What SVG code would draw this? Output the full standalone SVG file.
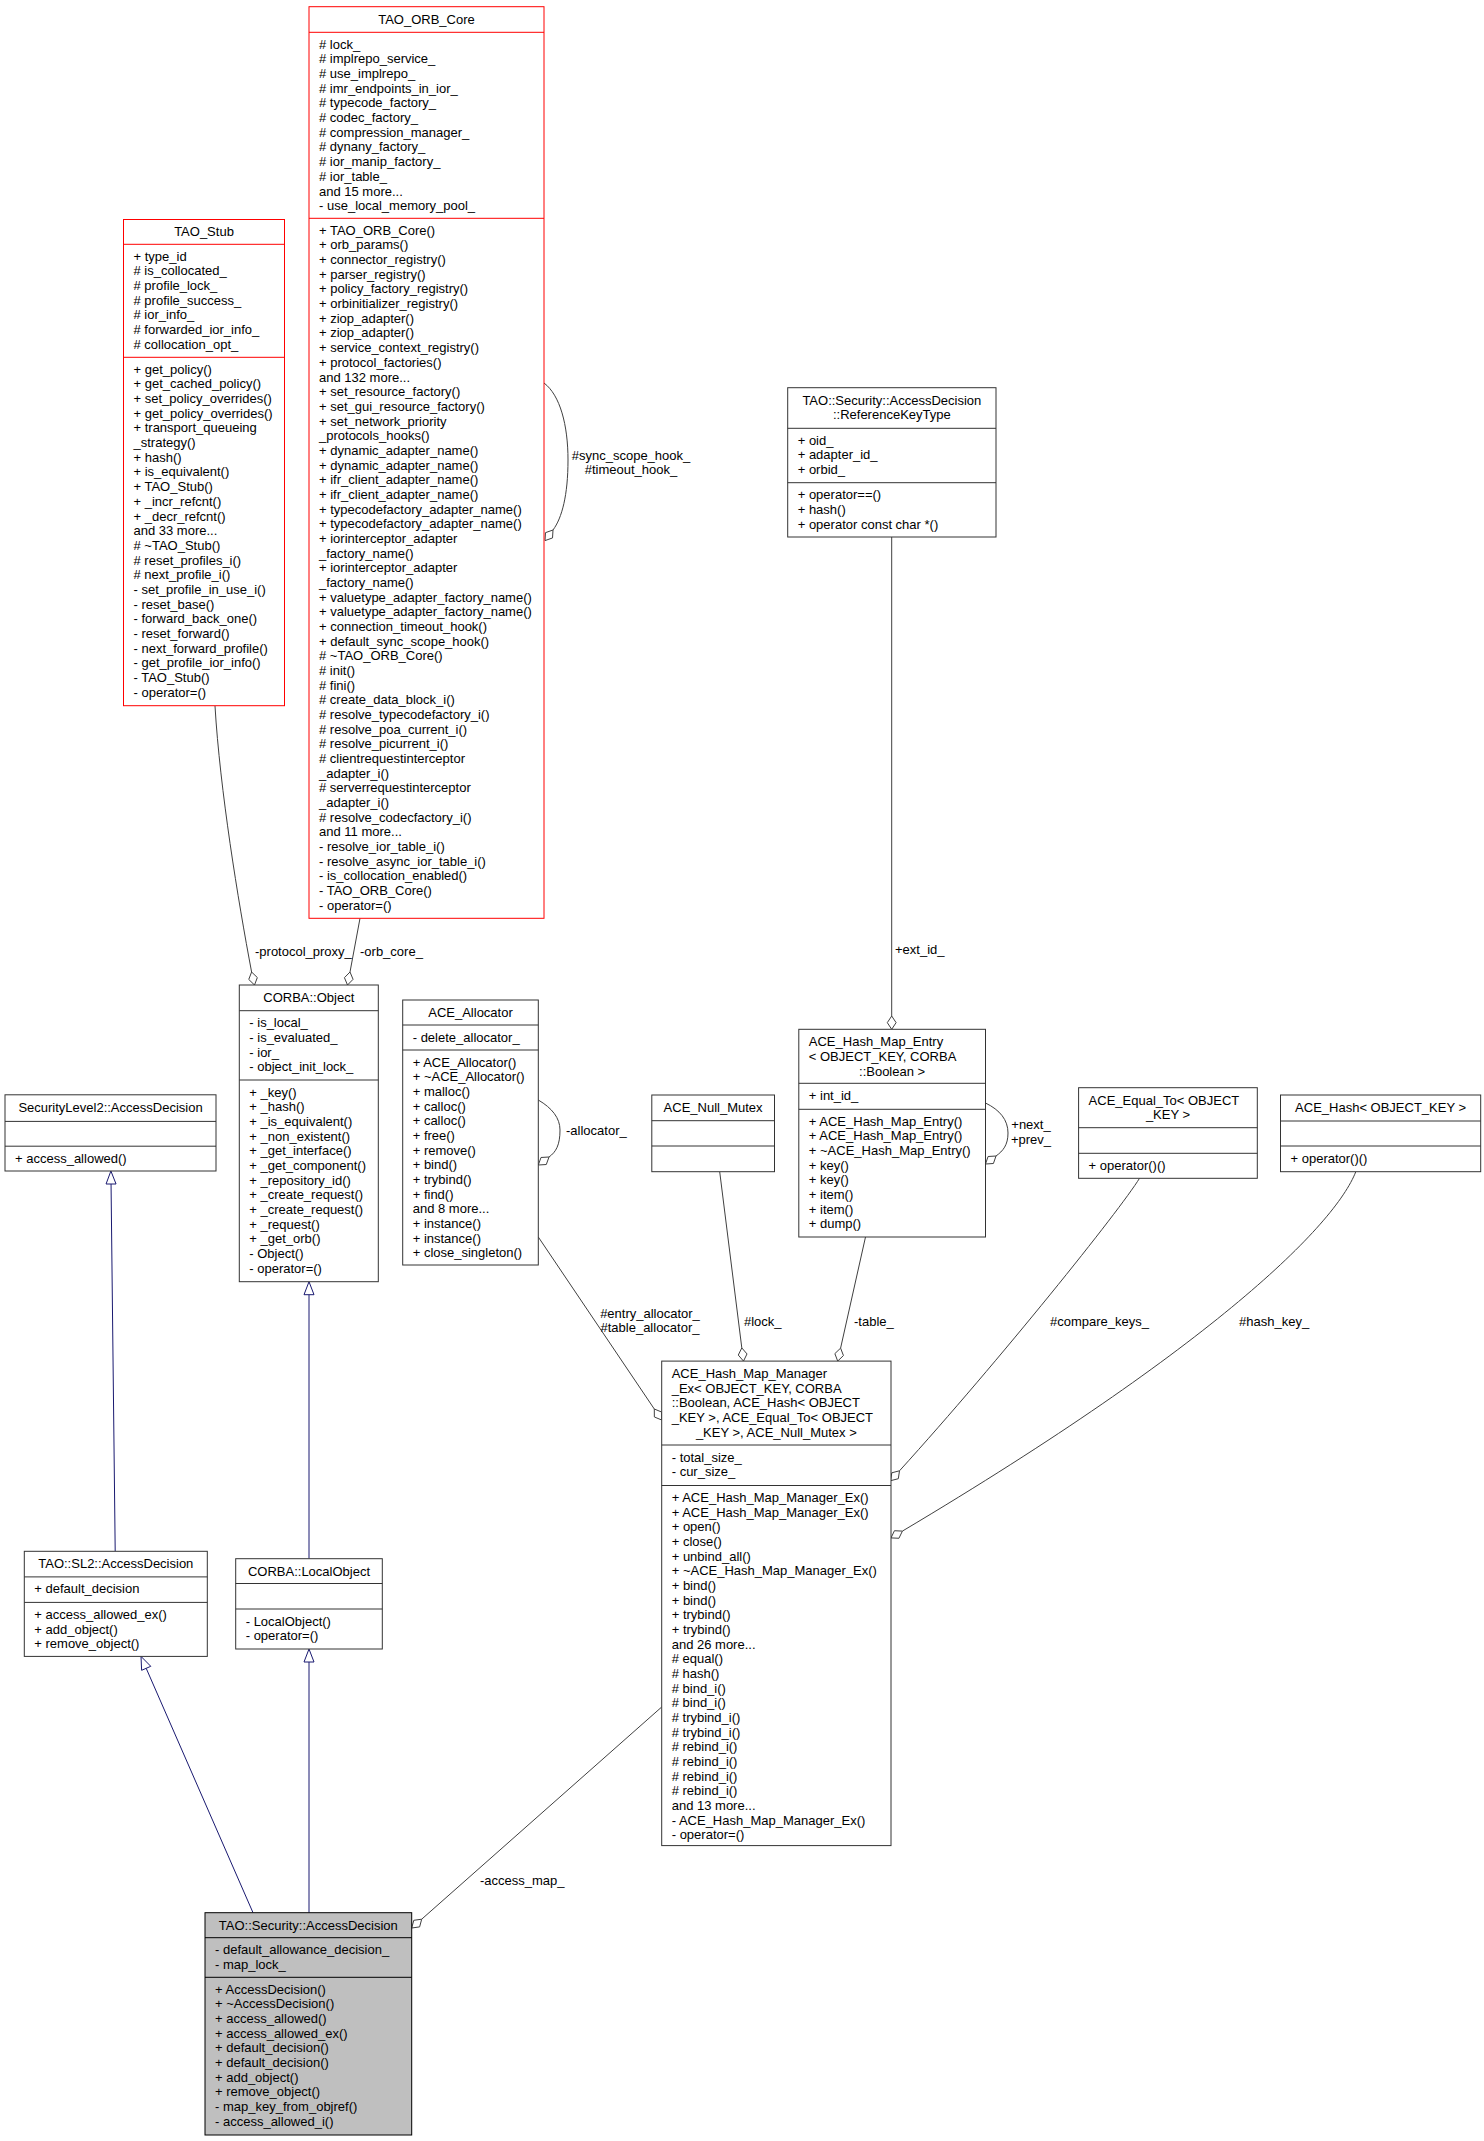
<svg xmlns="http://www.w3.org/2000/svg" width="1484" height="2141" viewBox="0 0 1484 2141">
<style>
text{font-family:"Liberation Sans",Arial,Helvetica,sans-serif;font-size:13px;fill:#000}
.c{text-anchor:middle}
.n{fill:#fff;stroke:#333;stroke-width:1}
.r{fill:#fff;stroke:#ff0000;stroke-width:1}
.g{fill:#bfbfbf;stroke:#000;stroke-width:1}
.sn{stroke:#333;stroke-width:1;fill:none}
.sr{stroke:#ff0000;stroke-width:1;fill:none}
.e{fill:none;stroke:#404040;stroke-width:1}
.i{fill:none;stroke:#191970;stroke-width:1}
.d{fill:#fff;stroke:#404040;stroke-width:1}
.t{fill:#fff;stroke:#191970;stroke-width:1}
</style>
<rect width="1484" height="2141" fill="#fff"/>

<g id="edges">
<!-- protocol_proxy_ -->
<path class="e" d="M215,706 C220,790 238,900 251.6,972"/>
<polygon class="d" points="254.5,985 248.76,979.45 251.6,972 257.34,977.55"/>
<text x="255" y="956">-protocol_proxy_</text>
<!-- orb_core_ -->
<path class="e" d="M360,918.3 L350,972"/>
<polygon class="d" points="347.5,985 344.43,977.67 350,972 353.07,979.33"/>
<text x="360" y="956">-orb_core_</text>
<!-- ORB core self loop -->
<path class="e" d="M544,383 C560,395 568,425 568,460 C568,495 562,518 553,530"/>
<polygon class="d" points="545,540.6 545.48,532.66 553,530 552.52,537.94"/>
<text class="c" x="631" y="459.5">#sync_scope_hook_</text>
<text class="c" x="631" y="473.5">#timeout_hook_</text>
<!-- ext_id_ -->
<path class="e" d="M891.7,537 L891.7,1016"/>
<polygon class="d" points="891.7,1029.3 887.3,1022.65 891.7,1016 896.1,1022.65"/>
<text x="895" y="953.5">+ext_id_</text>
<!-- Entry self loop -->
<path class="e" d="M985.5,1103 C1000,1110 1008,1120 1008,1133 C1008,1145 1003,1151 996,1156"/>
<polygon class="d" points="985.5,1164 988.08,1156.5 996,1156 993.42,1163.5"/>
<text class="c" x="1031" y="1129">+next_</text>
<text class="c" x="1031" y="1144">+prev_</text>
<!-- Allocator self loop -->
<path class="e" d="M538.3,1100 C552,1108 560,1118 560,1130 C560,1145 556,1152 549,1157"/>
<polygon class="d" points="538.3,1165 541.01,1157.48 549,1157 546.29,1164.52"/>
<text x="566" y="1134.5">-allocator_</text>
<!-- allocators -->
<path class="e" d="M538.3,1237 L654.3,1409"/>
<polygon class="d" points="661.7,1420 654.35,1416.96 654.3,1409 661.65,1412.04"/>
<text class="c" x="650" y="1318">#entry_allocator_</text>
<text class="c" x="650" y="1332">#table_allocator_</text>
<!-- lock_ -->
<path class="e" d="M719.7,1171.7 L741.8,1347.9"/>
<polygon class="d" points="743.5,1361.1 738.29,1355.05 741.8,1347.9 747.01,1353.95"/>
<text x="744" y="1326">#lock_</text>
<!-- table_ -->
<path class="e" d="M865.5,1237 L840.6,1348.1"/>
<polygon class="d" points="837.7,1361.1 834.86,1353.64 840.6,1348.1 843.44,1355.56"/>
<text x="854" y="1326">-table_</text>
<!-- compare_keys_ -->
<path class="e" d="M1139.5,1178.3 C1120,1210 1000,1360 899.5,1470.8"/>
<polygon class="d" points="890.6,1480.7 891.79,1472.79 899.5,1470.8 898.31,1478.71"/>
<text x="1050" y="1326">#compare_keys_</text>
<!-- hash_key_ -->
<path class="e" d="M1355.8,1171.7 C1335,1225 1215,1345 902.4,1531.1"/>
<polygon class="d" points="891,1537.9 894.45,1530.72 902.4,1531.1 898.95,1538.28"/>
<text x="1239" y="1326">#hash_key_</text>
<!-- access_map_ -->
<path class="e" d="M661.7,1707 L421.7,1919.2"/>
<polygon class="d" points="411.7,1928 413.79,1920.3 421.7,1919.2 419.61,1926.9"/>
<text x="480" y="1884.5">-access_map_</text>
<!-- inheritance -->
<path class="i" d="M115.2,1551.3 L111.05,1184"/>
<polygon class="t" points="110.9,1171 106.05,1184 116.05,1184"/>
<path class="i" d="M309,1558.7 L309,1294.7"/>
<polygon class="t" points="309,1281.7 304,1294.7 314,1294.7"/>
<path class="i" d="M253,1912.7 L146.2,1668.3"/>
<polygon class="t" points="141,1656.4 150.78,1666.3 141.62,1670.3"/>
<path class="i" d="M309,1912.7 L309,1662"/>
<polygon class="t" points="309,1649 304,1662 314,1662"/>
</g>

<g id="TAO_ORB_Core">
<rect class="r" x="309" y="6.7" width="235" height="911.6"/>
<path class="sr" d="M309,32.3H544M309,218.3H544"/>
<text class="c" x="426.5" y="23.5">TAO_ORB_Core</text>
<text x="319" y="48.8"><tspan x="319" dy="0"># lock_</tspan><tspan x="319" dy="14.67"># implrepo_service_</tspan><tspan x="319" dy="14.67"># use_implrepo_</tspan><tspan x="319" dy="14.67"># imr_endpoints_in_ior_</tspan><tspan x="319" dy="14.67"># typecode_factory_</tspan><tspan x="319" dy="14.67"># codec_factory_</tspan><tspan x="319" dy="14.67"># compression_manager_</tspan><tspan x="319" dy="14.67"># dynany_factory_</tspan><tspan x="319" dy="14.67"># ior_manip_factory_</tspan><tspan x="319" dy="14.67"># ior_table_</tspan><tspan x="319" dy="14.67">and 15 more...</tspan><tspan x="319" dy="14.67">- use_local_memory_pool_</tspan></text>
<text x="319" y="234.8"><tspan x="319" dy="0">+ TAO_ORB_Core()</tspan><tspan x="319" dy="14.67">+ orb_params()</tspan><tspan x="319" dy="14.67">+ connector_registry()</tspan><tspan x="319" dy="14.67">+ parser_registry()</tspan><tspan x="319" dy="14.67">+ policy_factory_registry()</tspan><tspan x="319" dy="14.67">+ orbinitializer_registry()</tspan><tspan x="319" dy="14.67">+ ziop_adapter()</tspan><tspan x="319" dy="14.67">+ ziop_adapter()</tspan><tspan x="319" dy="14.67">+ service_context_registry()</tspan><tspan x="319" dy="14.67">+ protocol_factories()</tspan><tspan x="319" dy="14.67">and 132 more...</tspan><tspan x="319" dy="14.67">+ set_resource_factory()</tspan><tspan x="319" dy="14.67">+ set_gui_resource_factory()</tspan><tspan x="319" dy="14.67">+ set_network_priority</tspan><tspan x="319" dy="14.67">_protocols_hooks()</tspan><tspan x="319" dy="14.67">+ dynamic_adapter_name()</tspan><tspan x="319" dy="14.67">+ dynamic_adapter_name()</tspan><tspan x="319" dy="14.67">+ ifr_client_adapter_name()</tspan><tspan x="319" dy="14.67">+ ifr_client_adapter_name()</tspan><tspan x="319" dy="14.67">+ typecodefactory_adapter_name()</tspan><tspan x="319" dy="14.67">+ typecodefactory_adapter_name()</tspan><tspan x="319" dy="14.67">+ iorinterceptor_adapter</tspan><tspan x="319" dy="14.67">_factory_name()</tspan><tspan x="319" dy="14.67">+ iorinterceptor_adapter</tspan><tspan x="319" dy="14.67">_factory_name()</tspan><tspan x="319" dy="14.67">+ valuetype_adapter_factory_name()</tspan><tspan x="319" dy="14.67">+ valuetype_adapter_factory_name()</tspan><tspan x="319" dy="14.67">+ connection_timeout_hook()</tspan><tspan x="319" dy="14.67">+ default_sync_scope_hook()</tspan><tspan x="319" dy="14.67"># ~TAO_ORB_Core()</tspan><tspan x="319" dy="14.67"># init()</tspan><tspan x="319" dy="14.67"># fini()</tspan><tspan x="319" dy="14.67"># create_data_block_i()</tspan><tspan x="319" dy="14.67"># resolve_typecodefactory_i()</tspan><tspan x="319" dy="14.67"># resolve_poa_current_i()</tspan><tspan x="319" dy="14.67"># resolve_picurrent_i()</tspan><tspan x="319" dy="14.67"># clientrequestinterceptor</tspan><tspan x="319" dy="14.67">_adapter_i()</tspan><tspan x="319" dy="14.67"># serverrequestinterceptor</tspan><tspan x="319" dy="14.67">_adapter_i()</tspan><tspan x="319" dy="14.67"># resolve_codecfactory_i()</tspan><tspan x="319" dy="14.67">and 11 more...</tspan><tspan x="319" dy="14.67">- resolve_ior_table_i()</tspan><tspan x="319" dy="14.67">- resolve_async_ior_table_i()</tspan><tspan x="319" dy="14.67">- is_collocation_enabled()</tspan><tspan x="319" dy="14.67">- TAO_ORB_Core()</tspan><tspan x="319" dy="14.67">- operator=()</tspan></text>
</g>

<g id="TAO_Stub">
<rect class="r" x="123.5" y="219.5" width="161" height="486.2"/>
<path class="sr" d="M123.5,244.3H284.5M123.5,357.3H284.5"/>
<text class="c" x="204" y="236.3">TAO_Stub</text>
<text x="133.5" y="260.8"><tspan x="133.5" dy="0">+ type_id</tspan><tspan x="133.5" dy="14.67"># is_collocated_</tspan><tspan x="133.5" dy="14.67"># profile_lock_</tspan><tspan x="133.5" dy="14.67"># profile_success_</tspan><tspan x="133.5" dy="14.67"># ior_info_</tspan><tspan x="133.5" dy="14.67"># forwarded_ior_info_</tspan><tspan x="133.5" dy="14.67"># collocation_opt_</tspan></text>
<text x="133.5" y="373.8"><tspan x="133.5" dy="0">+ get_policy()</tspan><tspan x="133.5" dy="14.67">+ get_cached_policy()</tspan><tspan x="133.5" dy="14.67">+ set_policy_overrides()</tspan><tspan x="133.5" dy="14.67">+ get_policy_overrides()</tspan><tspan x="133.5" dy="14.67">+ transport_queueing</tspan><tspan x="133.5" dy="14.67">_strategy()</tspan><tspan x="133.5" dy="14.67">+ hash()</tspan><tspan x="133.5" dy="14.67">+ is_equivalent()</tspan><tspan x="133.5" dy="14.67">+ TAO_Stub()</tspan><tspan x="133.5" dy="14.67">+ _incr_refcnt()</tspan><tspan x="133.5" dy="14.67">+ _decr_refcnt()</tspan><tspan x="133.5" dy="14.67">and 33 more...</tspan><tspan x="133.5" dy="14.67"># ~TAO_Stub()</tspan><tspan x="133.5" dy="14.67"># reset_profiles_i()</tspan><tspan x="133.5" dy="14.67"># next_profile_i()</tspan><tspan x="133.5" dy="14.67">- set_profile_in_use_i()</tspan><tspan x="133.5" dy="14.67">- reset_base()</tspan><tspan x="133.5" dy="14.67">- forward_back_one()</tspan><tspan x="133.5" dy="14.67">- reset_forward()</tspan><tspan x="133.5" dy="14.67">- next_forward_profile()</tspan><tspan x="133.5" dy="14.67">- get_profile_ior_info()</tspan><tspan x="133.5" dy="14.67">- TAO_Stub()</tspan><tspan x="133.5" dy="14.67">- operator=()</tspan></text>
</g>

<g id="ReferenceKeyType">
<rect class="n" x="787.7" y="387.7" width="208.3" height="149.3"/>
<path class="sn" d="M787.7,428.3H996M787.7,482.7H996"/>
<text class="c" x="891.85" y="404.5">TAO::Security::AccessDecision</text>
<text class="c" x="891.85" y="419.2">::ReferenceKeyType</text>
<text x="797.7" y="444.8"><tspan x="797.7" dy="0">+ oid_</tspan><tspan x="797.7" dy="14.67">+ adapter_id_</tspan><tspan x="797.7" dy="14.67">+ orbid_</tspan></text>
<text x="797.7" y="499.2"><tspan x="797.7" dy="0">+ operator==()</tspan><tspan x="797.7" dy="14.67">+ hash()</tspan><tspan x="797.7" dy="14.67">+ operator const char *()</tspan></text>
</g>

<g id="CORBA_Object">
<rect class="n" x="239.3" y="985" width="139" height="296.7"/>
<path class="sn" d="M239.3,1010.7H378.3M239.3,1080H378.3"/>
<text class="c" x="308.8" y="1002">CORBA::Object</text>
<text x="249.3" y="1027.2"><tspan x="249.3" dy="0">- is_local_</tspan><tspan x="249.3" dy="14.67">- is_evaluated_</tspan><tspan x="249.3" dy="14.67">- ior_</tspan><tspan x="249.3" dy="14.67">- object_init_lock_</tspan></text>
<text x="249.3" y="1096.5"><tspan x="249.3" dy="0">+ _key()</tspan><tspan x="249.3" dy="14.67">+ _hash()</tspan><tspan x="249.3" dy="14.67">+ _is_equivalent()</tspan><tspan x="249.3" dy="14.67">+ _non_existent()</tspan><tspan x="249.3" dy="14.67">+ _get_interface()</tspan><tspan x="249.3" dy="14.67">+ _get_component()</tspan><tspan x="249.3" dy="14.67">+ _repository_id()</tspan><tspan x="249.3" dy="14.67">+ _create_request()</tspan><tspan x="249.3" dy="14.67">+ _create_request()</tspan><tspan x="249.3" dy="14.67">+ _request()</tspan><tspan x="249.3" dy="14.67">+ _get_orb()</tspan><tspan x="249.3" dy="14.67">- Object()</tspan><tspan x="249.3" dy="14.67">- operator=()</tspan></text>
</g>

<g id="ACE_Allocator">
<rect class="n" x="402.7" y="1000" width="135.6" height="265"/>
<path class="sn" d="M402.7,1025H538.3M402.7,1050H538.3"/>
<text class="c" x="470.5" y="1017">ACE_Allocator</text>
<text x="412.7" y="1041.5">- delete_allocator_</text>
<text x="412.7" y="1066.5"><tspan x="412.7" dy="0">+ ACE_Allocator()</tspan><tspan x="412.7" dy="14.67">+ ~ACE_Allocator()</tspan><tspan x="412.7" dy="14.67">+ malloc()</tspan><tspan x="412.7" dy="14.67">+ calloc()</tspan><tspan x="412.7" dy="14.67">+ calloc()</tspan><tspan x="412.7" dy="14.67">+ free()</tspan><tspan x="412.7" dy="14.67">+ remove()</tspan><tspan x="412.7" dy="14.67">+ bind()</tspan><tspan x="412.7" dy="14.67">+ trybind()</tspan><tspan x="412.7" dy="14.67">+ find()</tspan><tspan x="412.7" dy="14.67">and 8 more...</tspan><tspan x="412.7" dy="14.67">+ instance()</tspan><tspan x="412.7" dy="14.67">+ instance()</tspan><tspan x="412.7" dy="14.67">+ close_singleton()</tspan></text>
</g>

<g id="SecurityLevel2_AccessDecision">
<rect class="n" x="5" y="1094.8" width="211" height="76.2"/>
<path class="sn" d="M5,1121.4H216M5,1146.2H216"/>
<text class="c" x="110.5" y="1111.5">SecurityLevel2::AccessDecision</text>
<text x="15" y="1162.7">+ access_allowed()</text>
</g>

<g id="ACE_Null_Mutex">
<rect class="n" x="651.8" y="1095" width="122.7" height="76.7"/>
<path class="sn" d="M651.8,1120.7H774.5M651.8,1146H774.5"/>
<text class="c" x="713.1" y="1111.8">ACE_Null_Mutex</text>
</g>

<g id="ACE_Hash_Map_Entry">
<rect class="n" x="798.8" y="1029.3" width="186.7" height="207.7"/>
<path class="sn" d="M798.8,1083.3H985.5M798.8,1109.3H985.5"/>
<text x="808.8" y="1046.3">ACE_Hash_Map_Entry</text>
<text x="808.8" y="1061">&lt; OBJECT_KEY, CORBA</text>
<text class="c" x="892.1" y="1075.6">::Boolean &gt;</text>
<text x="808.8" y="1099.8">+ int_id_</text>
<text x="808.8" y="1125.8"><tspan x="808.8" dy="0">+ ACE_Hash_Map_Entry()</tspan><tspan x="808.8" dy="14.67">+ ACE_Hash_Map_Entry()</tspan><tspan x="808.8" dy="14.67">+ ~ACE_Hash_Map_Entry()</tspan><tspan x="808.8" dy="14.67">+ key()</tspan><tspan x="808.8" dy="14.67">+ key()</tspan><tspan x="808.8" dy="14.67">+ item()</tspan><tspan x="808.8" dy="14.67">+ item()</tspan><tspan x="808.8" dy="14.67">+ dump()</tspan></text>
</g>

<g id="ACE_Equal_To">
<rect class="n" x="1078.6" y="1087.7" width="178.7" height="90.6"/>
<path class="sn" d="M1078.6,1127.7H1257.3M1078.6,1153.3H1257.3"/>
<text x="1088.6" y="1104.5">ACE_Equal_To&lt; OBJECT</text>
<text class="c" x="1168" y="1119.2">_KEY &gt;</text>
<text x="1088.6" y="1169.8">+ operator()()</text>
</g>

<g id="ACE_Hash">
<rect class="n" x="1280.5" y="1095" width="200.2" height="76.7"/>
<path class="sn" d="M1280.5,1121H1480.7M1280.5,1146H1480.7"/>
<text class="c" x="1380.6" y="1111.8">ACE_Hash&lt; OBJECT_KEY &gt;</text>
<text x="1290.5" y="1162.5">+ operator()()</text>
</g>

<g id="TAO_SL2_AccessDecision">
<rect class="n" x="24.3" y="1551.3" width="183" height="105.1"/>
<path class="sn" d="M24.3,1576.9H207.3M24.3,1602.4H207.3"/>
<text class="c" x="115.8" y="1568">TAO::SL2::AccessDecision</text>
<text x="34.3" y="1593.4">+ default_decision</text>
<text x="34.3" y="1618.9"><tspan x="34.3" dy="0">+ access_allowed_ex()</tspan><tspan x="34.3" dy="14.67">+ add_object()</tspan><tspan x="34.3" dy="14.67">+ remove_object()</tspan></text>
</g>

<g id="CORBA_LocalObject">
<rect class="n" x="235.7" y="1558.7" width="146.6" height="90.3"/>
<path class="sn" d="M235.7,1583.5H382.3M235.7,1609H382.3"/>
<text class="c" x="309" y="1575.5">CORBA::LocalObject</text>
<text x="245.7" y="1625.5"><tspan x="245.7" dy="0">- LocalObject()</tspan><tspan x="245.7" dy="14.67">- operator=()</tspan></text>
</g>

<g id="ACE_Hash_Map_Manager_Ex">
<rect class="n" x="661.7" y="1361.1" width="229.3" height="484.5"/>
<path class="sn" d="M661.7,1445H891M661.7,1485.5H891"/>
<text x="671.7" y="1378.1"><tspan x="671.7" dy="0">ACE_Hash_Map_Manager</tspan><tspan x="671.7" dy="14.67">_Ex&lt; OBJECT_KEY, CORBA</tspan><tspan x="671.7" dy="14.67">::Boolean, ACE_Hash&lt; OBJECT</tspan><tspan x="671.7" dy="14.67">_KEY &gt;, ACE_Equal_To&lt; OBJECT</tspan></text>
<text class="c" x="776.35" y="1436.8">_KEY &gt;, ACE_Null_Mutex &gt;</text>
<text x="671.7" y="1461.5"><tspan x="671.7" dy="0">- total_size_</tspan><tspan x="671.7" dy="14.67">- cur_size_</tspan></text>
<text x="671.7" y="1502"><tspan x="671.7" dy="0">+ ACE_Hash_Map_Manager_Ex()</tspan><tspan x="671.7" dy="14.67">+ ACE_Hash_Map_Manager_Ex()</tspan><tspan x="671.7" dy="14.67">+ open()</tspan><tspan x="671.7" dy="14.67">+ close()</tspan><tspan x="671.7" dy="14.67">+ unbind_all()</tspan><tspan x="671.7" dy="14.67">+ ~ACE_Hash_Map_Manager_Ex()</tspan><tspan x="671.7" dy="14.67">+ bind()</tspan><tspan x="671.7" dy="14.67">+ bind()</tspan><tspan x="671.7" dy="14.67">+ trybind()</tspan><tspan x="671.7" dy="14.67">+ trybind()</tspan><tspan x="671.7" dy="14.67">and 26 more...</tspan><tspan x="671.7" dy="14.67"># equal()</tspan><tspan x="671.7" dy="14.67"># hash()</tspan><tspan x="671.7" dy="14.67"># bind_i()</tspan><tspan x="671.7" dy="14.67"># bind_i()</tspan><tspan x="671.7" dy="14.67"># trybind_i()</tspan><tspan x="671.7" dy="14.67"># trybind_i()</tspan><tspan x="671.7" dy="14.67"># rebind_i()</tspan><tspan x="671.7" dy="14.67"># rebind_i()</tspan><tspan x="671.7" dy="14.67"># rebind_i()</tspan><tspan x="671.7" dy="14.67"># rebind_i()</tspan><tspan x="671.7" dy="14.67">and 13 more...</tspan><tspan x="671.7" dy="14.67">- ACE_Hash_Map_Manager_Ex()</tspan><tspan x="671.7" dy="14.67">- operator=()</tspan></text>
</g>

<g id="TAO_Security_AccessDecision">
<rect class="g" x="205" y="1912.7" width="206.7" height="222.3"/>
<path class="sn" d="M205,1937.7H411.7M205,1977.3H411.7" style="stroke:#000"/>
<text class="c" x="308.3" y="1929.7">TAO::Security::AccessDecision</text>
<text x="215" y="1954.2"><tspan x="215" dy="0">- default_allowance_decision_</tspan><tspan x="215" dy="14.67">- map_lock_</tspan></text>
<text x="215" y="1993.8"><tspan x="215" dy="0">+ AccessDecision()</tspan><tspan x="215" dy="14.67">+ ~AccessDecision()</tspan><tspan x="215" dy="14.67">+ access_allowed()</tspan><tspan x="215" dy="14.67">+ access_allowed_ex()</tspan><tspan x="215" dy="14.67">+ default_decision()</tspan><tspan x="215" dy="14.67">+ default_decision()</tspan><tspan x="215" dy="14.67">+ add_object()</tspan><tspan x="215" dy="14.67">+ remove_object()</tspan><tspan x="215" dy="14.67">- map_key_from_objref()</tspan><tspan x="215" dy="14.67">- access_allowed_i()</tspan></text>
</g>
</svg>
